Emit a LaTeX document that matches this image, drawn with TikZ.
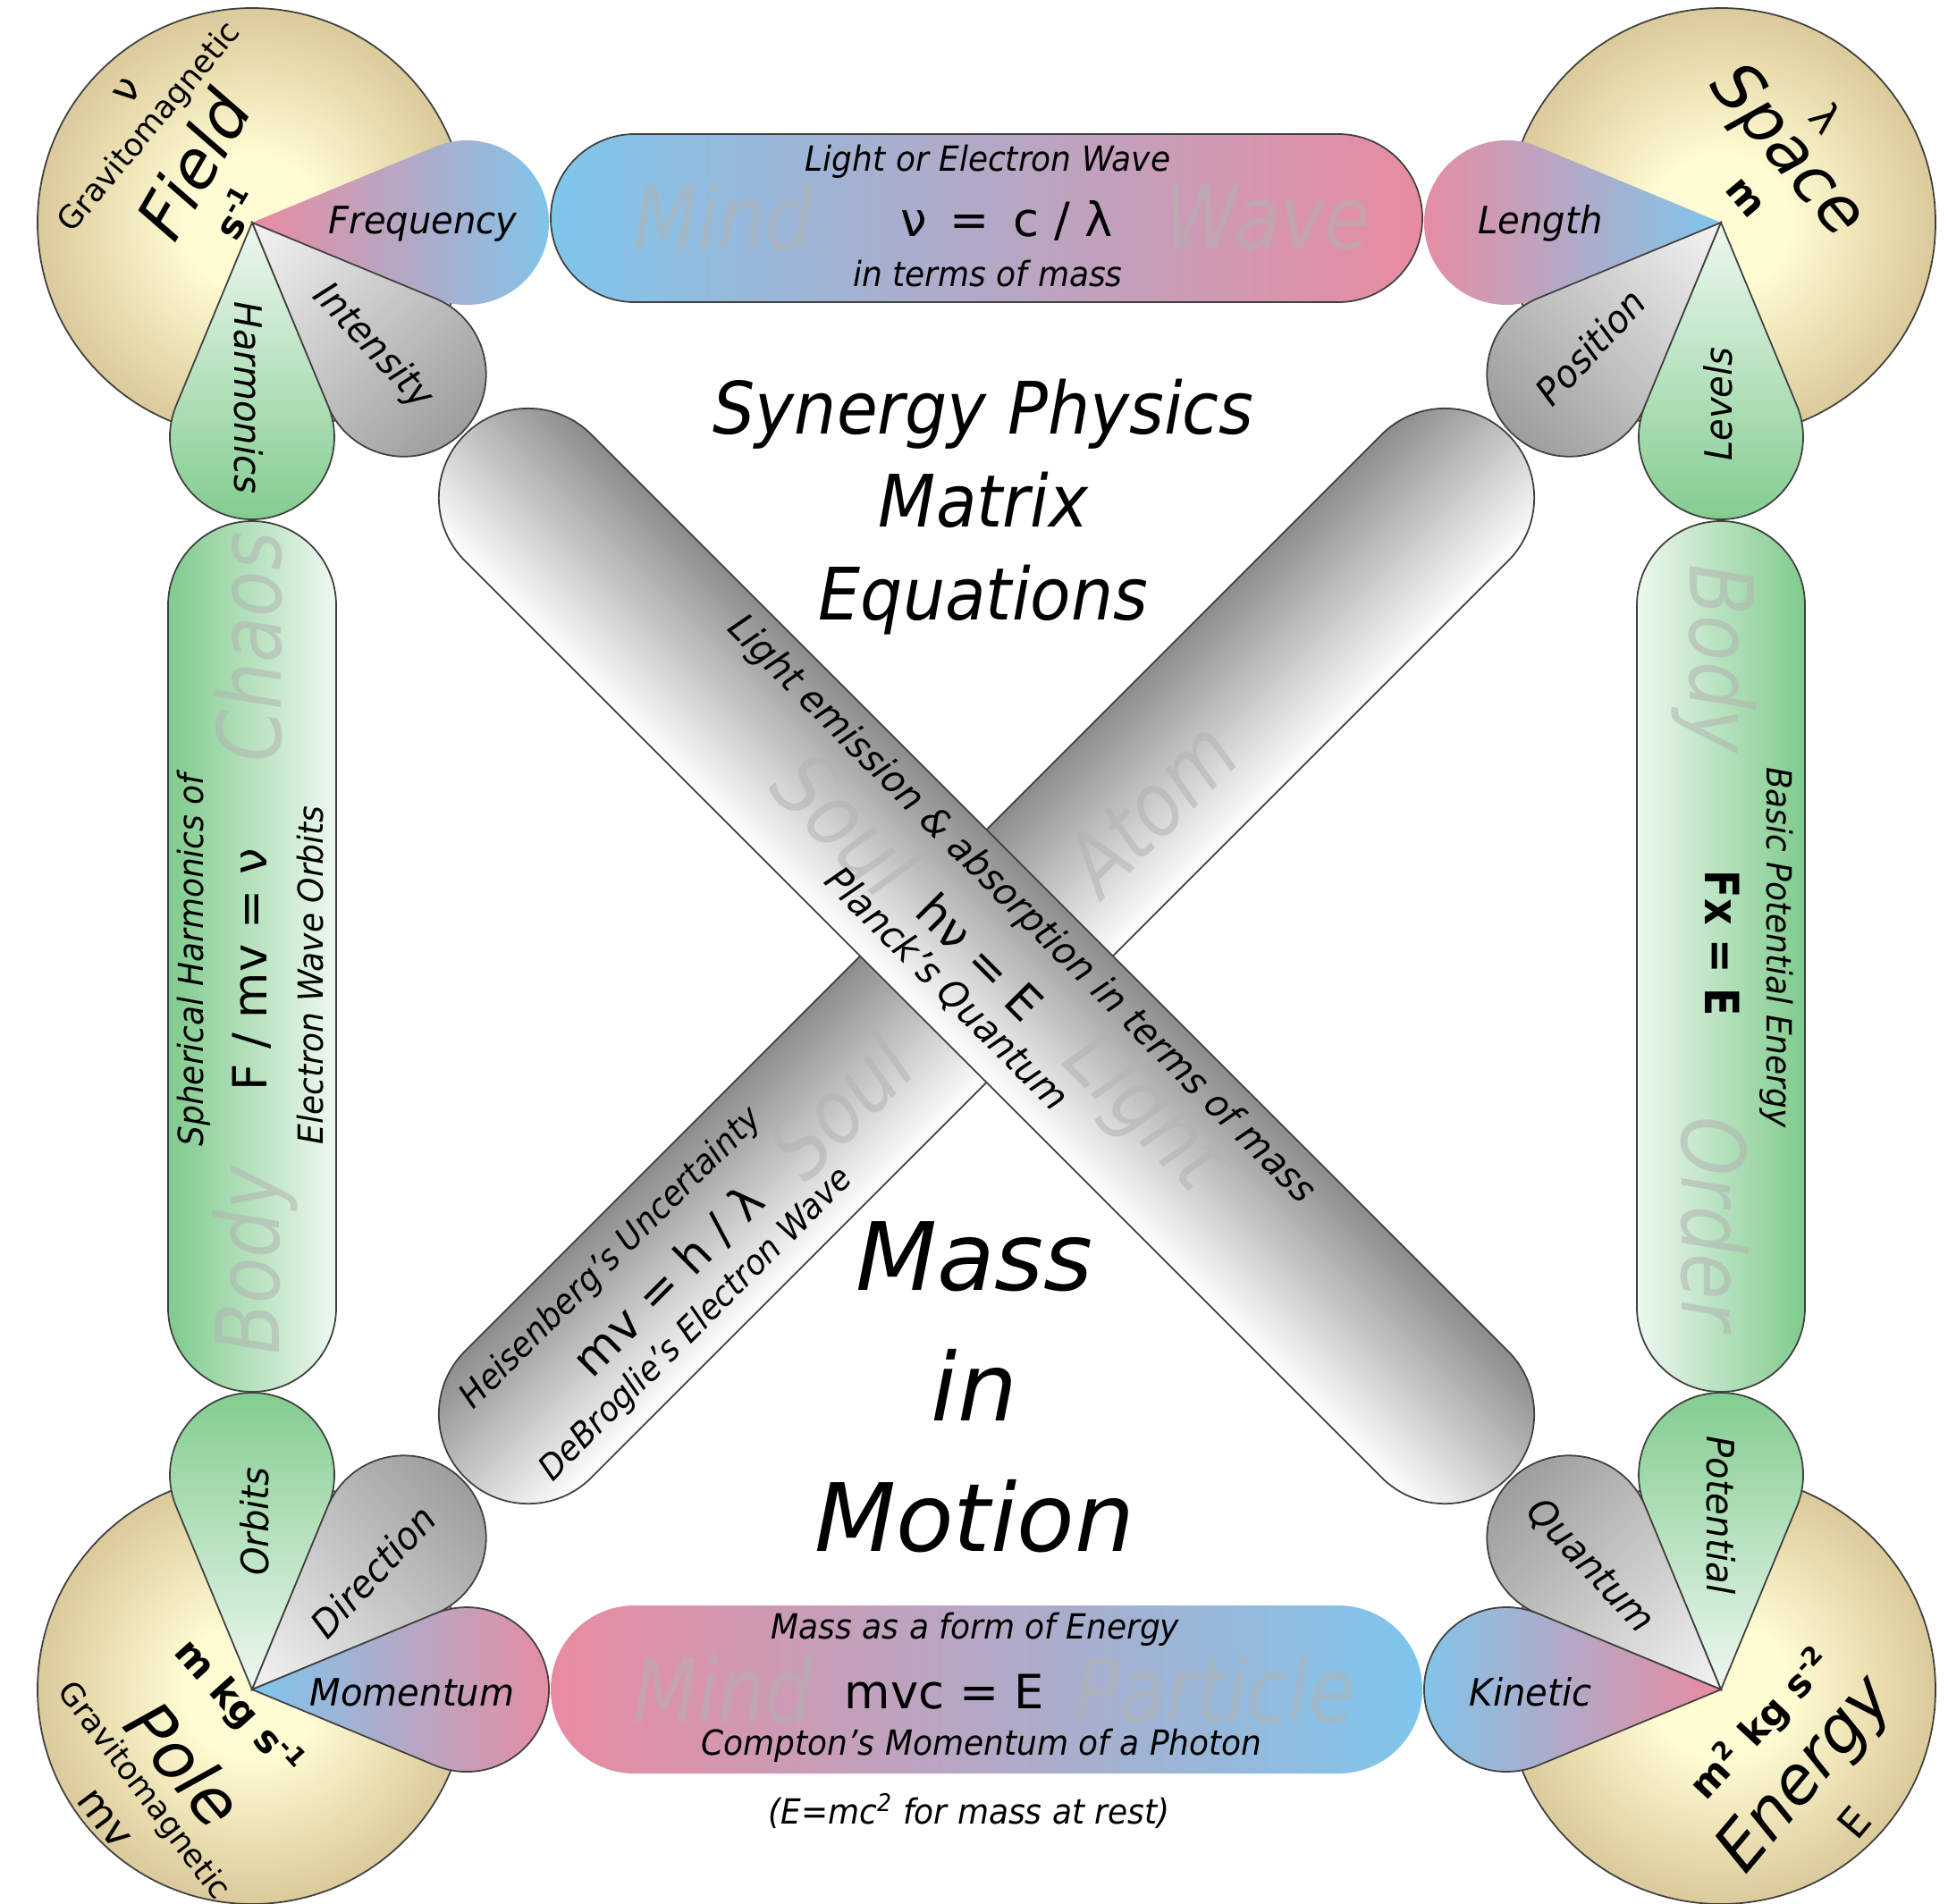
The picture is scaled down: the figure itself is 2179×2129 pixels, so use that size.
\documentclass[tikz,border=0pt]{standalone}
\usepackage{fontspec}
\setmainfont{DejaVu Sans}
\definecolor{pk}{HTML}{E98BA0}
\definecolor{bl}{HTML}{7EC6EC}
\definecolor{gr}{HTML}{7FCB8C}
\definecolor{grl}{HTML}{EEF8F0}
\definecolor{gyd}{HTML}{9A9A9A}
\definecolor{gyl}{HTML}{F4F4F4}
\definecolor{tanin}{HTML}{FFFBD2}
\definecolor{tanmid}{HTML}{D9C797}
\definecolor{tanout}{HTML}{AE9A72}
\pgfdeclareradialshading{tanball}{\pgfpoint{0bp}{0bp}}{color(0bp)=(tanin); color(8bp)=(tanin); color(26bp)=(tanmid); color(46bp)=(tanout); color(75bp)=(tanout)}
\newcommand{\mypetal}[5]{%
  \begin{scope}[transform canvas={shift={(#1)}, rotate=#2}]
    \shade[left color=#3, right color=#4, #5] (0,0) -- (22.54:221.7) arc[start angle=112.54, end angle=-112.54, radius=92] -- cycle;
  \end{scope}}
\tikzset{
  slbl/.style={font=\fontsize{11}{13}\selectfont\itshape, xscale=.93},
  blbl/.style={font=\fontsize{12}{14}\selectfont\itshape, xscale=.95},
  plbl/.style={font=\fontsize{12}{14}\selectfont\itshape, xscale=.95},
  eq/.style={font=\fontsize{15}{17}\selectfont},
  eqb/.style={font=\fontsize{15}{17}\selectfont\bfseries, xscale=.87},
  ghost/.style={font=\fontsize{28}{30}\selectfont\itshape, text=black!30, text opacity=.55, xscale=.85},
  cname/.style={font=\fontsize{21}{23}\selectfont\itshape},
  gm/.style={font=\fontsize{10}{12}\selectfont},
  cu/.style={font=\fontsize{13}{15}\selectfont},
  unit/.style={font=\fontsize{12}{14}\selectfont\bfseries},
  title/.style={font=\fontsize{23}{29.6}\selectfont\itshape, align=center, xscale=.92},
  titleb/.style={font=\fontsize{30}{41.5}\selectfont\itshape, align=center},
  outl/.style={draw=black!75, line width=.5pt},
  pill/.style={outl, rounded corners=0.939cm},
}
\begin{document}
\begin{tikzpicture}[x=0.01cm, y=-0.01cm, every node/.style={inner sep=0pt, outer sep=0pt}]
\useasboundingbox (0,0) rectangle (2179,2129);
\fill[white] (0,0) rectangle (2179,2129);
\coordinate (cTL) at (282,249);
\coordinate (cTR) at (1925,249);
\coordinate (cBL) at (282,1890);
\coordinate (cBR) at (1925,1890);
\coordinate (ctr) at (1103.5,1069.5);

% pills
\shade[pill, left color=bl, right color=pk] (616,150) rectangle (1591,338);
\shade[rounded corners=0.939cm, left color=pk, right color=bl] (616,1796) rectangle (1591,1984);
\shade[pill, left color=gr, right color=grl] (188,583) rectangle (376,1557);
\shade[pill, left color=grl, right color=gr] (1831,583) rectangle (2019,1557);

% diagonal bars
\begin{scope}[transform canvas={shift={(ctr)}, rotate=45}]
  \shade[outl, top color=black!45, middle color=black!12, bottom color=white, rounded corners=0.999cm] (-825,-100) rectangle (825,100);
\end{scope}
\begin{scope}[transform canvas={shift={(ctr)}, rotate=-45}]
  \shade[outl, top color=black!45, middle color=black!12, bottom color=white, rounded corners=0.999cm] (-825,-100) rectangle (825,100);
\end{scope}

% corner circles
\foreach \c in {cTL,cTR,cBL,cBR}{
  \shade[shading=tanball, outl] (\c) circle[radius=240];
}

% petals
\mypetal{cTL}{0}{pk}{bl}{}
\mypetal{cTL}{-45}{gyl}{gyd}{outl}
\mypetal{cTL}{-90}{grl}{gr}{outl}
\mypetal{cTR}{180}{bl}{pk}{}
\mypetal{cTR}{-135}{gyl}{gyd}{outl}
\mypetal{cTR}{-90}{grl}{gr}{outl}
\mypetal{cBL}{90}{grl}{gr}{outl}
\mypetal{cBL}{45}{gyl}{gyd}{outl}
\mypetal{cBL}{0}{bl}{pk}{outl}
\mypetal{cBR}{90}{grl}{gr}{outl}
\mypetal{cBR}{135}{gyl}{gyd}{outl}
\mypetal{cBR}{180}{pk}{bl}{outl}

% corner texts
\node[rotate=55, cu] (tlnu) at (143,102) {ν};
\node[rotate=50, gm] (tlgm) at (168,143) {Gravitomagnetic};
\node[rotate=60, cname] (tlname) at (216,184) {Field};
\node[rotate=60, unit] (tlunit) at (264,238) {s\textsuperscript{-1}};

\node[rotate=-50, cname] (trname) at (1998,170) {Space};
\node[rotate=-50, cu] (trlam) at (2043,132) {λ};
\node[rotate=-50, unit] (trunit) at (1952,222) {m};

\node[rotate=-48, unit] (blunit) at (267,1911) {m kg s\textsuperscript{-1}};
\node[rotate=-50, cname] (blname) at (207,1973) {Pole};
\node[rotate=-53, gm] (blgm) at (160,2004) {Gravitomagnetic};
\node[rotate=-53, cu] (blmv) at (116,2035) {mv};

\node[rotate=47, unit] (brunit) at (1971,1929) {m\textsuperscript{2} kg s\textsuperscript{-2}};
\node[rotate=50, cname] (brname) at (2021,1987) {Energy};
\node[rotate=50, cu] (brE) at (2074,2039) {E};

% petal labels
\node[plbl] (pFreq) at (473,250) {Frequency};
\node[rotate=-47, plbl] (pInt) at (417,388) {Intensity};
\node[rotate=-90, plbl] (pHarm) at (278,445) {Harmonics};
\node[plbl] (pLen) at (1723,250) {Length};
\node[rotate=47, plbl] (pPos) at (1779,388) {Position};
\node[rotate=90, plbl] (pLev) at (1922,452) {Levels};
\node[rotate=90, plbl] (pOrb) at (285,1702) {Orbits};
\node[rotate=47, plbl] (pDir) at (417,1758) {Direction};
\node[plbl] (pMom) at (461,1893) {Momentum};
\node[rotate=-90, plbl] (pPot) at (1925,1695) {Potential};
\node[rotate=-47, plbl] (pQua) at (1779,1752) {Quantum};
\node[plbl] (pKin) at (1712,1893) {Kinetic};

% top pill
\node[ghost] (tg1) at (809,243) {Mind};
\node[ghost] (tg2) at (1418,243) {Wave};
\node[slbl] (t1) at (1105,181) {Light or Electron Wave};
\node[eq] (teq) at (1126,247) {ν\enspace=\enspace c / λ};
\node[slbl] (t2) at (1105,306) {in terms of mass};

% bottom pill
\node[ghost] (bg1) at (809,1890) {Mind};
\node[ghost] (bg2) at (1359,1890) {Particle};
\node[slbl] (b1) at (1091,1823) {Mass as a form of Energy};
\node[eq] (beq) at (1056,1893) {mvc = E};
\node[slbl] (b2) at (1098,1953) {Compton's Momentum of a Photon};
\node[slbl] (b3) at (1084,2026) {(E=mc\textsuperscript{2} for mass at rest)};

% left pill
\node[rotate=90, ghost] (lg1) at (285,1410) {Body};
\node[rotate=90, ghost] (lg2) at (278,724) {Chaos};
\node[rotate=90, slbl] (l1) at (217,1074) {Spherical Harmonics of};
\node[rotate=90, eq] (leq) at (282,1085) {F / mv = ν};
\node[rotate=90, slbl] (l2) at (347,1091) {Electron Wave Orbits};

% right pill
\node[rotate=-90, ghost] (rg1) at (1918,737) {Body};
\node[rotate=-90, ghost] (rg2) at (1918,1369) {Order};
\node[rotate=-90, eqb] (req) at (1927,1055) {Fx = E};
\node[rotate=-90, slbl] (r1) at (1987,1060) {Basic Potential Energy};

% diagonal TL-BR
\node[rotate=-45, ghost] (dg1) at (947,921) {Soul};
\node[rotate=-45, ghost] (dg2) at (1279,1244) {Light};
\node[rotate=-45, blbl] (d1) at (1142,1018) {Light emission \& absorption in terms of mass};
\node[rotate=-45, eq] (deq) at (1097,1070) {hν = E};
\node[rotate=-45, blbl] (d2) at (1059,1107) {Planck's Quantum};

% diagonal BL-TR (lower-left part)
\node[rotate=45, ghost] (eg1) at (939,1236) {Soul};
\node[rotate=45, ghost] (eg2) at (1287,904) {Atom};
\node[rotate=45, slbl] (e1) at (684,1408) {Heisenberg's Uncertainty};
\node[rotate=45, eq] (eeq) at (748,1433) {mv = h / λ};
\node[rotate=45, slbl] (e2) at (779,1482) {DeBroglie's Electron Wave};

% titles
\node[title] (ttl) at (1100,567) {Synergy Physics\\Matrix\\Equations};
\node[titleb] (mim) at (1090,1552) {Mass\\in\\Motion};
\end{tikzpicture}
\end{document}
